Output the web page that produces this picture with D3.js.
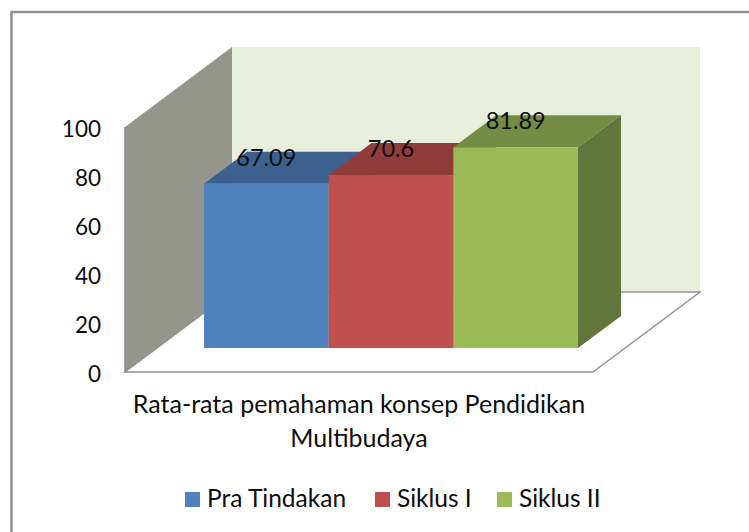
<!DOCTYPE html>
<html>
<head>
<meta charset="utf-8">
<style>
body { margin: 0; background: #fff; }
text { font-family: Lato, "Open Sans", sans-serif; fill: #0d0d0d; }
</style>
<script src="https://d3js.org/d3.v7.min.js"></script>
</head>
<body>
<svg id="chart" width="749" height="532"></svg>
<script>
var seriesNames = ["Pra Tindakan", "Siklus I", "Siklus II"];
var seriesValues = [67.09, 70.6, 81.89];
var valueTicks = [0, 20, 40, 60, 80, 100];
var categoryLines = ["Rata-rata pemahaman konsep Pendidikan", "Multibudaya"];

var faceColors = ["#4f81bd", "#c0504d", "#9bbb59"];
var topColors = ["#3c618e", "#903c3a", "#748c43"];
var sideColors = ["#344f73", "#78322f", "#62753a"];

var svg = d3.select("#chart");

// outer frame, only top and left are in the picture
svg.append("path")
    .attr("d", "M749,12 H11.5 V532")
    .attr("fill", "none")
    .attr("stroke", "#8f8f8f")
    .attr("stroke-width", 2.5);

// 3d box: front plane of the axis, and how far back the wall is
var y = d3.scaleLinear().domain([0, 100]).range([372, 127]);
var wallDx = 107, wallDy = -80;
var frontLeft = 125, frontRight = 593;

var line = d3.line();

// left wall
svg.append("path")
    .attr("d", line([[frontLeft, y(0)], [frontLeft, y(100)], [frontLeft + wallDx, y(100) + wallDy], [frontLeft + wallDx, y(0) + wallDy]]) + "Z")
    .attr("fill", "#94968b");

// back wall
svg.append("path")
    .attr("d", line([[frontLeft + wallDx, y(0) + wallDy], [frontLeft + wallDx, y(100) + wallDy], [frontRight + wallDx, y(100) + wallDy], [frontRight + wallDx, y(0) + wallDy]]) + "Z")
    .attr("fill", "#e9efdd");

// floor
svg.append("path")
    .attr("d", line([[frontLeft, y(0)], [frontRight, y(0)], [frontRight + wallDx, y(0) + wallDy], [frontLeft + wallDx, y(0) + wallDy]]) + "Z")
    .attr("fill", "#fff")
    .attr("stroke", "#939393")
    .attr("stroke-width", 1.5);

svg.append("path")
    .attr("d", line([[frontLeft, y(0)], [frontLeft, y(100)]]))
    .attr("stroke", "#8c8c8c")
    .attr("stroke-width", 1.5);

// bars sit 30% into the depth of the floor
var barDx = 43, barDy = -32;
var baseY = 348;
var x = d3.scaleBand().domain(seriesNames).range([204, 578]);
var barTop = function(v) { return baseY - (y(0) - y(v)); };

var bars = svg.selectAll(".bar")
    .data(seriesNames)
    .enter().append("g")
    .attr("class", "bar");

bars.append("path")
    .attr("fill", function(d, i) { return sideColors[i]; })
    .attr("d", function(d, i) {
        var r = x(d) + x.bandwidth(), t = barTop(seriesValues[i]);
        return line([[r, t], [r + barDx, t + barDy], [r + barDx, baseY + barDy], [r, baseY]]) + "Z";
    });

bars.append("path")
    .attr("fill", function(d, i) { return topColors[i]; })
    .attr("d", function(d, i) {
        var l = x(d), r = l + x.bandwidth(), t = barTop(seriesValues[i]);
        return line([[l, t], [r, t], [r + barDx, t + barDy], [l + barDx, t + barDy]]) + "Z";
    });

bars.append("rect")
    .attr("x", function(d) { return x(d); })
    .attr("y", function(d, i) { return barTop(seriesValues[i]); })
    .attr("width", x.bandwidth())
    .attr("height", function(d, i) { return baseY - barTop(seriesValues[i]); })
    .attr("fill", function(d, i) { return faceColors[i]; });

bars.append("text")
    .attr("x", function(d) { return x(d) + x.bandwidth() / 2; })
    .attr("y", function(d, i) { return barTop(seriesValues[i]) - 18; })
    .attr("text-anchor", "middle")
    .attr("font-size", 23.5)
    .text(function(d, i) { return seriesValues[i]; });

// value axis
var yAxis = svg.append("g")
    .attr("transform", "translate(101,2)")
    .call(d3.axisLeft(y).tickValues(valueTicks).tickSize(0).tickPadding(0));
yAxis.select(".domain").remove();
yAxis.selectAll("text")
    .attr("font-size", 22.5)
    .style("font-family", "Lato")
    .style("fill", "#0d0d0d");

// category label
svg.selectAll(".cat")
    .data(categoryLines)
    .enter().append("text")
    .attr("class", "cat")
    .attr("x", 359)
    .attr("y", function(d, i) { return 413 + i * 34; })
    .attr("text-anchor", "middle")
    .attr("font-size", 25)
    .text(function(d) { return d; });

// legend
var legendX = [185, 375, 497];
var legend = svg.selectAll(".legend")
    .data(seriesNames)
    .enter().append("g")
    .attr("class", "legend")
    .attr("transform", function(d, i) { return "translate(" + legendX[i] + ",492)"; });

legend.append("rect")
    .attr("width", 15)
    .attr("height", 15)
    .attr("fill", function(d, i) { return faceColors[i]; });

legend.append("text")
    .attr("x", 22)
    .attr("y", 15)
    .attr("font-size", 24.5)
    .text(function(d) { return d; });
</script>
</body>
</html>
